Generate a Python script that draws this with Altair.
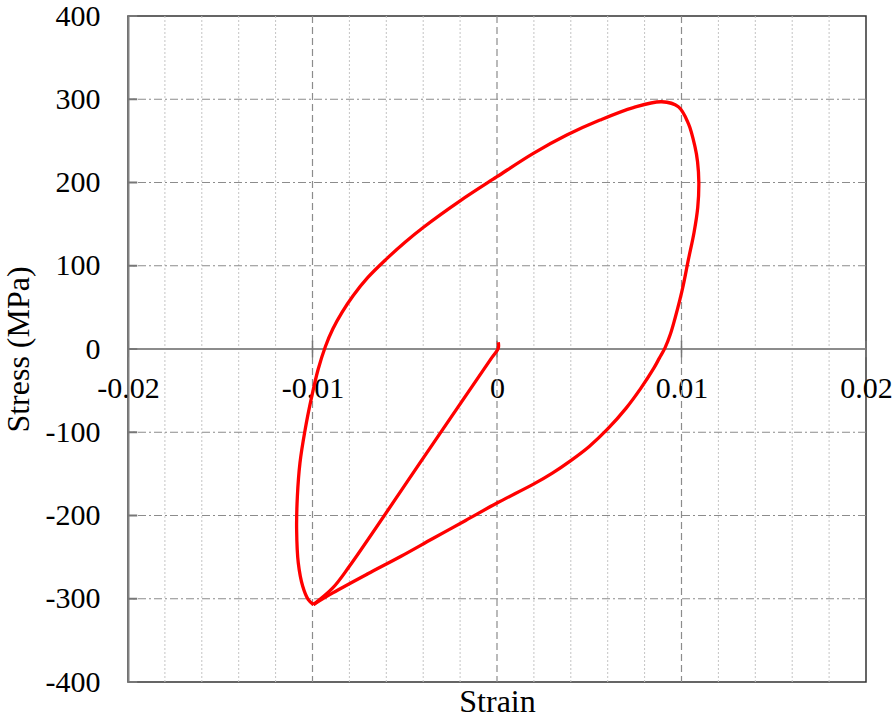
import altair as alt
import pandas as pd

# Initial compressive loading from the origin to the first reversal
load_strain = [0.00007, 0.00007, -0.0003, -0.0040, -0.0080, -0.0089, -0.00995]
load_stress = [8, 1, -11, -131, -261, -287, -307]

# Hysteresis loop: lower branch to the right, then upper branch back to the left
loop_strain = [
    -0.00995, -0.0089, -0.0070, -0.0052, -0.0035, -0.0017, 0.0, 0.0020,
    0.0030, 0.0040, 0.0050, 0.0060, 0.0070, 0.0078, 0.0085, 0.0088,
    0.0091, 0.0094, 0.00965, 0.0099, 0.0101, 0.01037, 0.01068, 0.01088,
    0.01094, 0.01087, 0.01073, 0.01037, 0.00983, 0.00893, 0.00739, 0.00558,
    0.00378, 0.00197, 0.0, -0.0020, -0.0040, -0.0050, -0.0060, -0.0070,
    -0.0078, -0.0084, -0.0089, -0.0093, -0.0097, -0.01004, -0.0104, -0.01068,
    -0.01082, -0.01086, -0.01077, -0.01053, -0.01023, -0.00995,
]
loop_stress = [
    -307, -293, -270, -249, -228, -206, -185, -162,
    -149, -134, -117, -96, -71, -47, -23, -11,
    1, 18, 37, 58, 77, 107, 140, 170,
    200, 225, 243, 271, 291, 297, 290, 275,
    257, 235, 207, 178, 146, 128, 108, 86,
    64, 44, 24, 3, -25, -57, -97, -137,
    -177, -217, -257, -285, -301, -307,
]

x_major = [-0.02, -0.01, 0.0, 0.01, 0.02]
x_minor = [-0.018, -0.016, -0.014, -0.012, -0.008, -0.006, -0.004, -0.002,
           0.002, 0.004, 0.006, 0.008, 0.012, 0.014, 0.016, 0.018]
x_grid = [-0.01, 0.0, 0.01]
y_major = [-400, -300, -200, -100, 0, 100, 200, 300, 400]
y_grid = [-300, -200, -100, 100, 200, 300]

FONT = "Liberation Serif"
GRID = "#8c8c8c"

xs = alt.Scale(domain=[-0.02, 0.02], nice=False, zero=False)
ys = alt.Scale(domain=[-400, 400], nice=False, zero=False)

load_df = pd.DataFrame({"strain": load_strain, "stress": load_stress,
                        "i": range(len(load_strain))})
loop_df = pd.DataFrame({"strain": loop_strain, "stress": loop_stress,
                        "i": range(len(loop_strain))})

# strain labels sit just under the zero-stress line
x_axis = alt.Axis(
    values=x_major, grid=False, ticks=False, domain=False, offset=-333,
    labelExpr="replace(format(datum.value, '.2~f'), '\u2212', '-')",
    labelFont=FONT, labelFontSize=30, labelColor="black", labelPadding=24,
    labelFlush=False, labelOverlap=False,
    title="Strain", titleFont=FONT, titleFontSize=32, titleFontWeight="normal",
    titleColor="black", titleY=362, titleBaseline="alphabetic",
)
y_axis = alt.Axis(
    values=y_major, grid=False, ticks=False, domain=True, domainColor="#808080",
    domainWidth=2,
    labelExpr="replace(format(datum.value, 'd'), '\u2212', '-')",
    labelFont=FONT, labelFontSize=30, labelColor="black", labelPadding=28,
    labelOverlap=False, labelFlush=False,
    title="Stress (MPa)", titleFont=FONT, titleFontSize=32,
    titleFontWeight="normal", titleColor="black", titleAngle=270,
    titleX=-100, titleY=333, titleBaseline="alphabetic", titleAlign="center",
)

# the curve layers; every layer repeats the same axis definitions
load_line = alt.Chart(load_df).mark_line(
    color="#ff0000", strokeWidth=3.3, interpolate="catmull-rom"
).encode(
    x=alt.X("strain:Q", scale=xs, axis=x_axis),
    y=alt.Y("stress:Q", scale=ys, axis=y_axis),
    order="i:Q",
)
loop_line = alt.Chart(loop_df).mark_line(
    color="#ff0000", strokeWidth=3.3, interpolate="catmull-rom"
).encode(
    x=alt.X("strain:Q", scale=xs, axis=x_axis),
    y=alt.Y("stress:Q", scale=ys, axis=y_axis),
    order="i:Q",
)

minor_v = alt.Chart(pd.DataFrame({"strain": x_minor})).mark_rule(
    color="#c4c4c4", strokeDash=[2, 2], strokeWidth=1
).encode(x=alt.X("strain:Q", scale=xs, axis=x_axis))

major_v = alt.Chart(pd.DataFrame({"strain": x_grid})).mark_rule(
    color=GRID, strokeDash=[7, 4], strokeWidth=1.2
).encode(x=alt.X("strain:Q", scale=xs, axis=x_axis))

major_h = alt.Chart(pd.DataFrame({"stress": y_grid})).mark_rule(
    color=GRID, strokeDash=[8, 3, 2, 3], strokeWidth=1.2
).encode(y=alt.Y("stress:Q", scale=ys, axis=y_axis))

zero_h = alt.Chart(pd.DataFrame({"stress": [0]})).mark_rule(
    color=GRID, strokeWidth=2
).encode(y=alt.Y("stress:Q", scale=ys, axis=y_axis))

# short tick marks: inward on the left edge, crossing the zero line for strain
y_ticks = alt.Chart(pd.DataFrame({
    "stress": y_major,
    "x0": [-0.02] * len(y_major),
    "x1": [-0.0195] * len(y_major),
})).mark_rule(color="#777777", strokeWidth=2).encode(
    y=alt.Y("stress:Q", scale=ys, axis=y_axis),
    x=alt.X("x0:Q", scale=xs, axis=x_axis),
    x2="x1:Q",
)
x_ticks = alt.Chart(pd.DataFrame({
    "strain": x_major,
    "y0": [-10] * len(x_major),
    "y1": [10] * len(x_major),
})).mark_rule(color="#777777", strokeWidth=1.5).encode(
    x=alt.X("strain:Q", scale=xs, axis=x_axis),
    y=alt.Y("y0:Q", scale=ys, axis=y_axis),
    y2="y1:Q",
)

chart = alt.layer(
    minor_v, major_v, major_h, zero_h, y_ticks, x_ticks, load_line, loop_line
).properties(
    width=738,
    height=666,
    autosize=alt.AutoSizeParams(type="none"),
    padding={"left": 128, "top": 16, "right": 29, "bottom": 35},
    background="white",
).configure_view(stroke="#333333", strokeWidth=1.5)

chart.save("out.html", embed_options={"renderer": "svg", "actions": False})
